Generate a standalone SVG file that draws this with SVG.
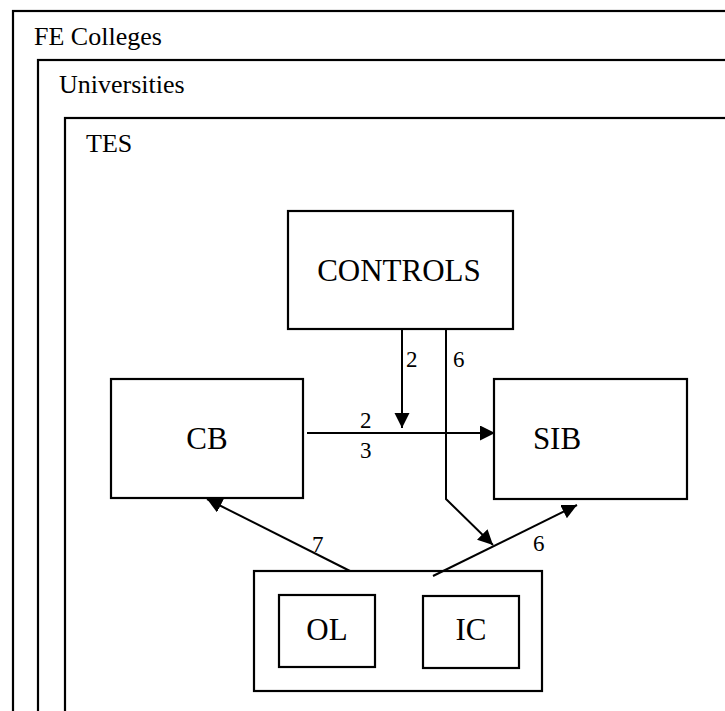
<svg xmlns="http://www.w3.org/2000/svg" width="725" height="711" viewBox="0 0 725 711">
  <style>
    .frame { fill: none; stroke: #000; stroke-width: 2.2; }
    .box { fill: #fff; stroke: #000; stroke-width: 2.2; }
    .edge { fill: none; stroke: #000; stroke-width: 2; }
    .t { font-family: "Liberation Serif", "DejaVu Serif", serif; fill: #000; }
    .frame-label { font-size: 26px; }
    .node-label { font-size: 31px; text-anchor: middle; }
    .edge-label { font-size: 23px; }
  </style>
  <defs>
    <marker id="arrow" markerUnits="userSpaceOnUse" markerWidth="16" markerHeight="16" refX="15" refY="7.5" orient="auto">
      <path d="M0,0 L15,7.5 L0,15 Z" fill="#000"/>
    </marker>
  </defs>

  <!-- Nested frames -->
  <g id="fe-colleges">
    <rect class="frame" x="13" y="11" width="730" height="720"/>
    <text class="t frame-label" x="34" y="45">FE Colleges</text>
  </g>
  <g id="universities">
    <rect class="frame" x="38" y="60" width="700" height="670"/>
    <text class="t frame-label" x="59" y="93">Universities</text>
  </g>
  <g id="tes">
    <rect class="frame" x="65" y="118" width="680" height="610"/>
    <text class="t frame-label" x="86" y="152">TES</text>
  </g>

  <!-- Nodes -->
  <g id="controls">
    <rect class="box" x="288" y="211" width="225" height="118"/>
    <text class="t node-label" x="399" y="281">CONTROLS</text>
  </g>
  <g id="cb">
    <rect class="box" x="111" y="379" width="192" height="119"/>
    <text class="t node-label" x="207" y="449">CB</text>
  </g>
  <g id="sib">
    <rect class="box" x="494" y="379" width="193" height="120"/>
    <text class="t node-label" x="557" y="449">SIB</text>
  </g>
  <g id="group">
    <rect class="box" x="254" y="571" width="288" height="120"/>
  </g>
  <g id="ol">
    <rect class="box" x="279" y="595" width="96" height="72"/>
    <text class="t node-label" x="327" y="640">OL</text>
  </g>
  <g id="ic">
    <rect class="box" x="423" y="596" width="96" height="72"/>
    <text class="t node-label" x="471" y="640">IC</text>
  </g>

  <!-- Connectors -->
  <g id="connectors">
    <line class="edge" x1="402" y1="329" x2="402" y2="428" marker-end="url(#arrow)"/>
    <line class="edge" x1="307" y1="433" x2="495" y2="433" marker-end="url(#arrow)"/>
    <polyline class="edge" points="446,329 446,499 493,545" marker-end="url(#arrow)"/>
    <line class="edge" x1="350" y1="571" x2="207" y2="499" marker-end="url(#arrow)"/>
    <line class="edge" x1="433" y1="576" x2="577" y2="505" marker-end="url(#arrow)"/>

    <text class="t edge-label" x="406" y="367">2</text>
    <text class="t edge-label" x="453" y="367">6</text>
    <text class="t edge-label" x="360" y="428">2</text>
    <text class="t edge-label" x="360" y="458">3</text>
    <text class="t edge-label" x="312" y="552">7</text>
    <text class="t edge-label" x="533" y="551">6</text>
  </g>
</svg>
